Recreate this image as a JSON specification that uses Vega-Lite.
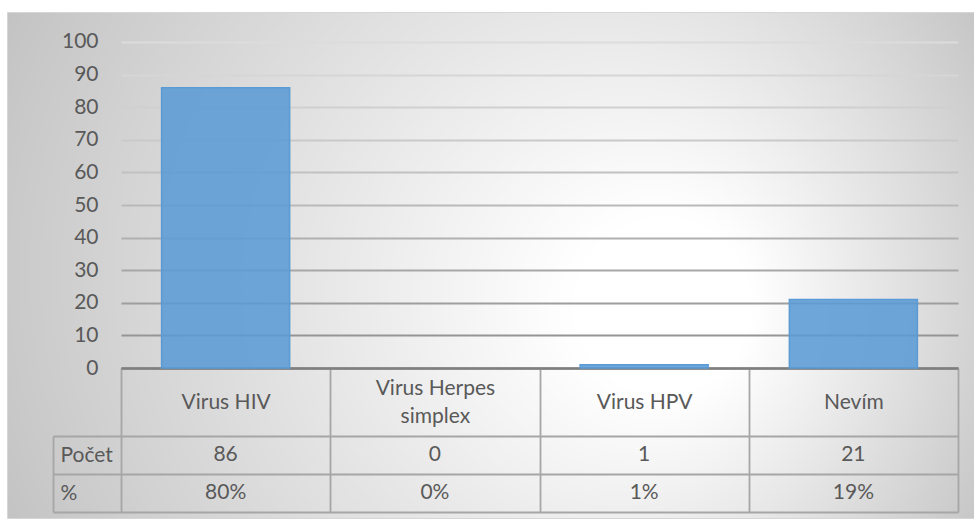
{
  "$schema": "https://vega.github.io/schema/vega-lite/v6.json",
  "width": 967,
  "height": 506,
  "autosize": "none",
  "padding": {"left": 7, "top": 12, "right": 0, "bottom": 1},
  "background": "#ffffff",
  "config": {
    "font": "Lato",
    "view": {
      "stroke": "#d6d6d6",
      "strokeWidth": 1,
      "fill": {
        "gradient": "radial",
        "x1": 0.71, "y1": 0.55, "r1": 0,
        "x2": 0.5, "y2": 0.5, "r2": 0.6,
        "stops": [
          {"offset": 0, "color": "#ffffff"},
          {"offset": 0.15, "color": "#ffffff"},
          {"offset": 0.88, "color": "#c9c9c9"},
          {"offset": 1, "color": "#bfbfbf"}
        ]
      }
    },
    "text": {"font": "Lato", "fontSize": 21, "color": "#595959"}
  },
  "data": {
    "values": [
      {"kategorie": "Virus HIV", "pocet": 86, "podil": 0.80},
      {"kategorie": "Virus Herpes simplex", "pocet": 0, "podil": 0},
      {"kategorie": "Virus HPV", "pocet": 1, "podil": 0.01},
      {"kategorie": "Nevím", "pocet": 21, "podil": 0.19}
    ]
  },
  "encoding": {
    "x": {
      "field": "kategorie",
      "type": "nominal",
      "sort": null,
      "scale": {
        "type": "band",
        "domain": ["Virus HIV", "Virus Herpes simplex", "Virus HPV", "Nevím"],
        "range": [114, 951],
        "paddingInner": 0,
        "paddingOuter": 0
      },
      "axis": {
        "orient": "bottom",
        "offset": -150,
        "title": null,
        "grid": false,
        "domain": true,
        "domainColor": "#7f7f7f",
        "domainWidth": 2.5,
        "ticks": true,
        "tickBand": "extent",
        "tickSize": 144,
        "tickColor": "#a6a6a6",
        "tickWidth": 1.8,
        "labelAngle": 0,
        "labelFont": "Lato",
        "labelFontSize": 21,
        "labelColor": "#595959",
        "labelBaseline": {
          "condition": {"test": "datum.label == 'Virus Herpes simplex'", "value": "line-bottom"},
          "value": "middle"
        },
        "labelPadding": -110,
        "labelLineHeight": 28,
        "labelLimit": 0,
        "labelOverlap": false,
        "labelFlush": false,
        "labelExpr": "datum.label == 'Virus Herpes simplex' ? ['Virus Herpes', 'simplex'] : datum.label"
      }
    }
  },
  "layer": [
    {
      "mark": {
        "type": "bar",
        "width": {"band": 0.612},
        "fill": "#5b9bd5",
        "fillOpacity": 0.88,
        "stroke": "#5b9bd5",
        "strokeWidth": 1.5
      },
      "encoding": {
        "y": {
          "field": "pocet",
          "type": "quantitative",
          "scale": {"domain": [-46, 109.2], "nice": false, "zero": false},
          "axis": {
            "orient": "left",
            "offset": -114,
            "title": null,
            "values": [0, 10, 20, 30, 40, 50, 60, 70, 80, 90, 100],
            "domain": false,
            "ticks": false,
            "labelPadding": 23,
            "labelFont": "Lato",
            "labelFontSize": 21,
            "labelColor": "#595959",
            "labelFlush": false,
            "grid": true,
            "gridWidth": 1.8,
            "gridColor": {
              "condition": [
                {"test": "datum.value >= 95", "value": "#dcdcdc"},
                {"test": "datum.value >= 85", "value": "#d6d6d6"},
                {"test": "datum.value >= 75", "value": "#d0d0d0"},
                {"test": "datum.value >= 65", "value": "#c9c9c9"},
                {"test": "datum.value >= 55", "value": "#c1c1c1"},
                {"test": "datum.value >= 45", "value": "#b9b9b9"},
                {"test": "datum.value >= 35", "value": "#b0b0b0"},
                {"test": "datum.value >= 25", "value": "#a7a7a7"},
                {"test": "datum.value >= 15", "value": "#9e9e9e"},
                {"test": "datum.value >= 5", "value": "#959595"}
              ],
              "value": "#808080"
            }
          }
        },
        "strokeOpacity": {
          "condition": {"test": "datum.pocet == 0", "value": 0},
          "value": 1
        }
      }
    },
    {
      "layer": [
        {
          "mark": {"type": "text", "align": "center", "baseline": "middle"},
          "encoding": {
            "y": {
              "datum": "Počet",
              "type": "nominal",
              "scale": {
                "type": "band",
                "domain": ["Počet", "%"],
                "range": [424, 500],
                "paddingInner": 0,
                "paddingOuter": 0
              },
              "axis": {
                "orient": "right",
                "offset": -921,
                "title": null,
                "grid": false,
                "domain": true,
                "domainColor": "#a6a6a6",
                "domainWidth": 1.8,
                "ticks": true,
                "tickBand": "extent",
                "tickSize": 905,
                "tickColor": "#a6a6a6",
                "tickWidth": 1.8,
                "labelAlign": "left",
                "labelBaseline": "middle",
                "labelPadding": -898,
                "labelFont": "Lato",
                "labelFontSize": 21,
                "labelColor": "#595959",
                "labelLimit": 0
              }
            },
            "text": {"field": "pocet", "type": "quantitative"}
          }
        },
        {
          "mark": {"type": "text", "align": "center", "baseline": "middle"},
          "encoding": {
            "y": {"datum": "%", "type": "nominal"},
            "text": {"field": "podil", "type": "quantitative", "format": ".0%"}
          }
        }
      ]
    }
  ],
  "resolve": {"scale": {"y": "independent"}, "axis": {"y": "independent"}}
}
